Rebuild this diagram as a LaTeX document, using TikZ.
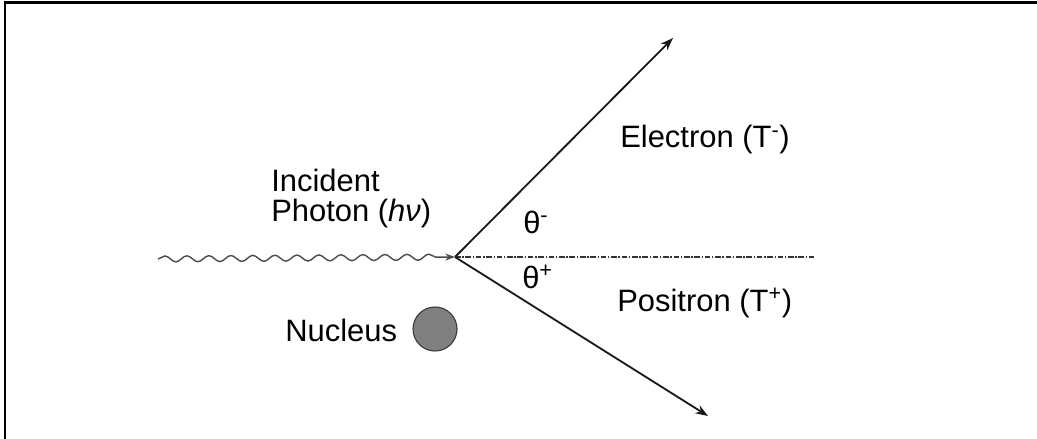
\documentclass[tikz,border=0pt]{standalone}
\usepackage{fontspec}
\setmainfont{Liberation Sans}
\usepackage{tikz}
\usetikzlibrary{arrows.meta,positioning,decorations.pathmorphing}
\definecolor{cNuc}{RGB}{128,128,128}
\definecolor{cNucRim}{RGB}{60,60,60}
\tikzset{
  lbl/.style={inner sep=0pt,font=\fontsize{22}{21}\selectfont,text=black},
  framel/.style={line width=1.8pt,color=black},
  partarr/.style={-{Stealth[length=9pt,width=6.5pt,inset=3pt]},line width=1.3pt,color=black!90},
  photarr/.style={-{Stealth[length=7pt,width=5pt,inset=2.5pt]},line width=1pt,color=black!70,
                  decorate,decoration={snake,amplitude=0.075cm,segment length=0.55cm,
                  pre length=0pt,post length=0.35cm}},
  axisln/.style={line width=0.8pt,color=black!80,
                 dash pattern=on 4pt off 1.2pt on 1pt off 1.2pt},
  nucnode/.style={circle,draw=cNucRim,fill=cNuc,line width=0.8pt,
                  minimum size=1.1cm,inner sep=0pt}
}
\begin{document}
\begin{tikzpicture}[x=0.025cm,y=-0.025cm]
  \useasboundingbox (0,0) rectangle (1037,439);
  % frame (top and left edges only)
  \draw[framel] (4,2.5) -- (1037,2.5);
  \draw[framel] (5,2.5) -- (5,439);

  % interaction point and track ends
  \coordinate (vtx)    at (455,257);
  \coordinate (phIn)   at (158,259);
  \coordinate (eEnd)   at (673,38);
  \coordinate (pEnd)   at (708,416);
  \coordinate (axEnd)  at (815,257);

  \node[nucnode] (nuc) at (435,329) {};

  % labels
  \node[lbl,align=left,anchor=north west] (phLbl) at (271,169)
      {Incident\\Photon (\textit{hν})};
  \node[lbl,anchor=base west] (eLbl) at (620,148) {Electron (T\textsuperscript{-})};
  \node[lbl,anchor=base west] (pLbl) at (617,311) {Positron (T\textsuperscript{+})};
  \node[lbl,anchor=base west] (nLbl) at (285,341) {Nucleus};
  \node[lbl,anchor=base west] (thM)  at (523,233) {θ\textsuperscript{-}};
  \node[lbl,anchor=base west] (thP)  at (522,288) {θ\textsuperscript{+}};

  % tracks
  \draw[axisln] (vtx) -- (axEnd);
  \draw[photarr] (phIn) -- (vtx);
  \foreach \t in {eEnd,pEnd}
    \draw[partarr] (vtx) -- (\t);
\end{tikzpicture}
\end{document}
